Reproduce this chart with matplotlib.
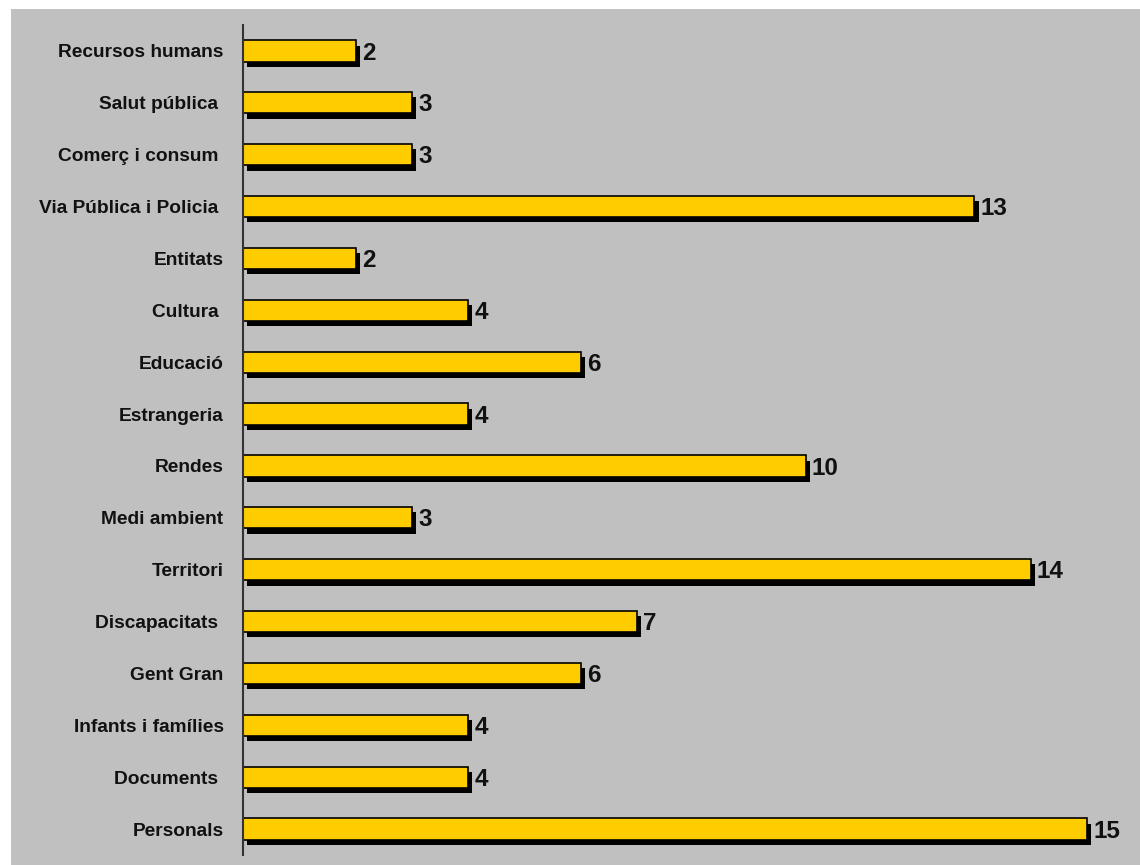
import matplotlib
matplotlib.use("Agg")
import matplotlib.pyplot as plt
import matplotlib.patheffects as pe
from matplotlib.patches import Rectangle

# categories top -> bottom, as in the chart
cats = ["Recursos humans", "Salut pública ", "Comerç i consum ", "Via Pública i Policia ",
        "Entitats", "Cultura ", "Educació", "Estrangeria", "Rendes", "Medi ambient",
        "Territori", "Discapacitats ", "Gent Gran", "Infants i famílies", "Documents ",
        "Personals"]
vals = [2, 3, 3, 13, 2, 4, 6, 4, 10, 3, 14, 7, 6, 4, 4, 15]

plt.rcParams['font.family'] = ['Liberation Sans', 'DejaVu Sans']

fig = plt.figure(figsize=(11.4, 8.65), dpi=100, facecolor='white')
# grey chart area with white margin at top and left
fig.patches.append(Rectangle((11/1140, 0), 1, 1 - 9/865, transform=fig.transFigure,
                             facecolor='#c0c0c0', edgecolor='none', zorder=-5))

ax = fig.add_axes([243/1140, 10/865, 872/1140, 830/865])
ax.set_facecolor('none')
ax.set_zorder(1)

ypos = list(range(len(cats)))
shadow = [pe.SimplePatchShadow(offset=(3.2, -3.8), shadow_rgbFace='black', alpha=1.0), pe.Normal()]
bars = ax.barh(ypos, vals, height=0.41, color='#ffcc00', edgecolor='black', linewidth=1.2)
for b in bars:
    b.set_path_effects(shadow)

for y, v in zip(ypos, vals):
    ax.annotate(str(v), (v, y), xytext=(4.5, -1.5), textcoords='offset points',
                va='center', ha='left', fontsize=17.5, fontweight='bold', color='#111111')

ax.set_xlim(0, 15.5)
ax.set_ylim(len(cats) - 0.5, -0.5)
ax.set_yticks(ypos)
ax.set_yticklabels(cats, fontsize=13.8, fontweight='bold', color='#111111')
ax.tick_params(axis='y', length=0, pad=14)
ax.set_xticks([])
for s in ['top', 'right', 'bottom']:
    ax.spines[s].set_visible(False)
ax.spines['left'].set_color('#333333')
ax.spines['left'].set_linewidth(1.5)

fig.savefig('out.png', dpi=100, facecolor=fig.get_facecolor())
